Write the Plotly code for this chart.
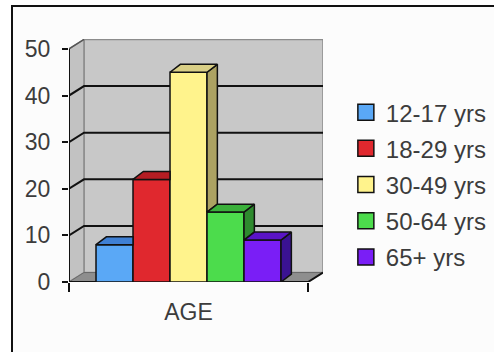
import plotly.graph_objects as go

# ---- data ----
categories = ["12-17 yrs", "18-29 yrs", "30-49 yrs", "50-64 yrs", "65+ yrs"]
values = [8, 22, 45, 15, 9]
front_colors = ["#5aa8f6", "#e0282e", "#fff38c", "#4cdc4c", "#7a1ef6"]
top_colors = ["#3f80d4", "#b51d23", "#d9cf86", "#3bb03b", "#5a14c6"]
side_colors = ["#2f5f9a", "#8a1418", "#aca262", "#2e8a2e", "#3a1292"]
y_ticks = [0, 10, 20, 30, 40, 50]
x_label = "AGE"

# ---- 3D geometry (style) ----
GAP = 0.73          # floor margin on each side of the bar group (x units)
WDX, WDY = 0.405, 2.03   # wall depth offset (x units, y units)
BDX, BDY = 0.28, 1.7     # bar depth offset
YMAX = y_ticks[-1]

n = len(values)
xs = list(range(n))
x0 = -0.5 - GAP
x1 = (n - 1) + 0.5 + GAP
FONT = "Liberation Sans, Arial, sans-serif"
TXT = "#3c3c3c"

fig = go.Figure()

shapes = []
# back wall
shapes.append(dict(type="rect", xref="x", yref="y", layer="below",
                   x0=x0 + WDX, x1=x1 + WDX, y0=WDY, y1=YMAX + WDY,
                   fillcolor="#c8c8c8", line=dict(color="#8c8c8c", width=1.5)))
# side wall
shapes.append(dict(type="path", xref="x", yref="y", layer="below",
                   path=f"M{x0},0 L{x0},{YMAX} L{x0+WDX},{YMAX+WDY} L{x0+WDX},{WDY} Z",
                   fillcolor="#c2c2c2", line=dict(color="#8c8c8c", width=1.5)))
# floor
shapes.append(dict(type="path", xref="x", yref="y", layer="below",
                   path=f"M{x0},0 L{x1},0 L{x1+WDX},{WDY} L{x0+WDX},{WDY} Z",
                   fillcolor="#8e8e8e", line=dict(color="#6a6a6a", width=1)))
# gridlines (side wall + back wall)
for v in y_ticks[1:-1]:
    shapes.append(dict(type="path", xref="x", yref="y", layer="below",
                       path=f"M{x0},{v} L{x0+WDX},{v+WDY} L{x1+WDX},{v+WDY}",
                       line=dict(color="#111111", width=2)))
# top edge of side wall
shapes.append(dict(type="line", xref="x", yref="y", layer="below",
                   x0=x0, x1=x0 + WDX, y0=YMAX, y1=YMAX + WDY,
                   line=dict(color="#555555", width=1.5)))
# floor front edge and right edge
shapes.append(dict(type="path", xref="x", yref="y", layer="below",
                   path=f"M{x0},0 L{x1},0 L{x1+WDX},{WDY}",
                   line=dict(color="#111111", width=2)))
# value axis line
shapes.append(dict(type="line", xref="x", yref="y", layer="below",
                   x0=x0, x1=x0, y0=0, y1=YMAX,
                   line=dict(color="#111111", width=2)))
# outer frame
shapes.append(dict(type="rect", xref="paper", yref="paper", layer="below",
                   x0=-0.2244, x1=1.78, y0=-0.35, y1=1.1358,
                   fillcolor="#fcfcfc", line=dict(color="#111111", width=2)))

# front faces of the bars
fig.add_trace(go.Bar(
    x=xs, y=values, width=1,
    marker=dict(color=front_colors, line=dict(color="#111111", width=1.5)),
    showlegend=False, hoverinfo="skip",
))

# tops and visible sides
for i, (xc, v) in enumerate(zip(xs, values)):
    L, R = xc - 0.5, xc + 0.5
    nxt = values[i + 1] if i + 1 < n else 0
    if nxt < v:
        fig.add_trace(go.Scatter(
            x=[R, R, R + BDX, R + BDX, R],
            y=[nxt, v, v + BDY, nxt + BDY, nxt],
            mode="lines", fill="toself", fillcolor=side_colors[i],
            line=dict(color="#111111", width=1.5),
            showlegend=False, hoverinfo="skip"))
    if nxt > v:
        tx = [L, L + BDX, R, R, L]
    else:
        tx = [L, L + BDX, R + BDX, R, L]
    ty = [v, v + BDY, v + BDY, v, v]
    fig.add_trace(go.Scatter(
        x=tx, y=ty, mode="lines", fill="toself", fillcolor=top_colors[i],
        line=dict(color="#111111", width=1.5),
        showlegend=False, hoverinfo="skip"))

# legend entries
for i, cat in enumerate(categories):
    fig.add_trace(go.Scatter(
        x=[None], y=[None], mode="markers", name=cat, legendgroup=cat,
        marker=dict(symbol="square", size=16, color=front_colors[i],
                    line=dict(color="#111111", width=1.5))))

fig.update_layout(
    width=494, height=352,
    margin=dict(l=69, r=171, t=39, b=70, autoexpand=False),
    paper_bgcolor="white", plot_bgcolor="rgba(0,0,0,0)",
    barmode="overlay",
    shapes=shapes,
    font=dict(family=FONT, size=23, color=TXT),
    showlegend=True,
    legend=dict(x=1.09, y=0.79, xanchor="left", yanchor="top",
                font=dict(family=FONT, size=24, color=TXT),
                bgcolor="rgba(0,0,0,0)", traceorder="grouped",
                tracegroupgap=2, itemwidth=30),
    xaxis=dict(range=[x0, x1 + WDX], showgrid=False, zeroline=False,
               showline=False, tickmode="array", tickvals=[(n - 1) / 2],
               ticktext=[x_label], ticks="", ticklabelstandoff=14,
               minor=dict(tickmode="array", tickvals=[x0, x1], ticks="outside",
                          ticklen=9, tickwidth=2, tickcolor="#111111"),
               fixedrange=True),
    yaxis=dict(range=[0, YMAX + WDY + 0.1], showgrid=False, zeroline=False,
               showline=False, tickmode="array", tickvals=y_ticks,
               ticks="outside", ticklen=6, tickwidth=2, tickcolor="#111111",
               ticklabelstandoff=7, fixedrange=True),
)

fig.write_html("out.html")
